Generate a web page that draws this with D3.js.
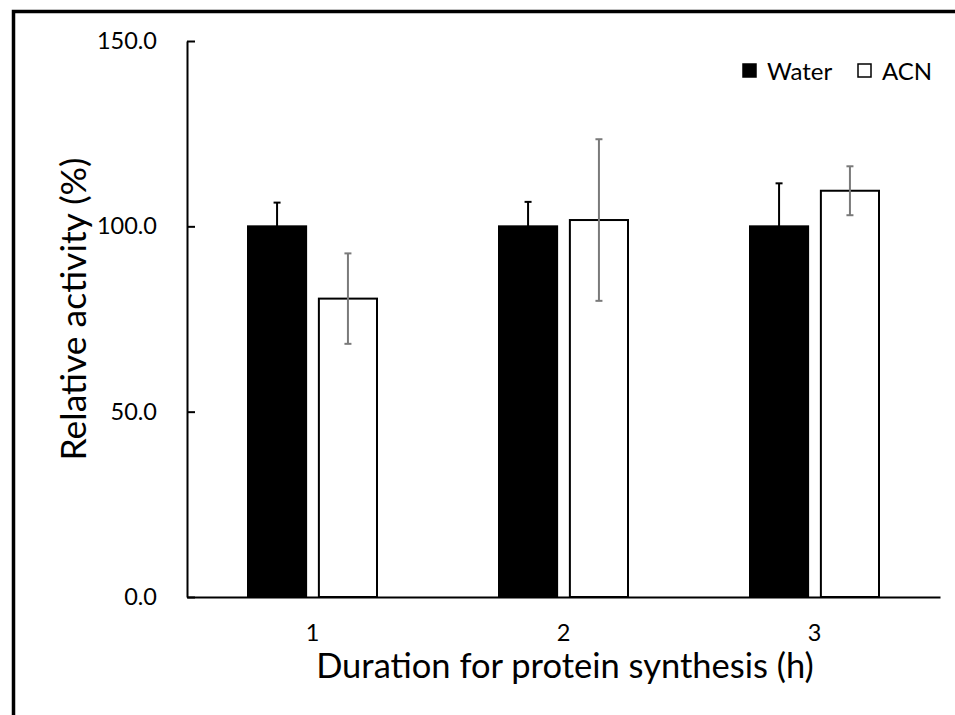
<!DOCTYPE html>
<html><head><meta charset="utf-8">
<script src="https://cdn.jsdelivr.net/npm/d3@7"></script>
<style>body{margin:0;background:#fff;} svg{display:block;font-family:Lato, "Open Sans", sans-serif;}</style>
</head><body>
<svg id="chart" width="955" height="715"></svg>
<script>
const categories = ["1", "2", "3"];
const series = ["Water", "ACN"];
const waterValues = [100.0, 100.0, 100.0];
const waterErrors = [6.4, 6.6, 11.6];
const acnValues = [80.5, 101.7, 109.6];
const acnErrors = [12.2, 21.8, 6.6];
const yTicks = [0, 50, 100, 150];

const svg = d3.select("#chart");
const W = 955, H = 715;
svg.append("rect").attr("x", 13.5).attr("y", 11.5).attr("width", W + 20).attr("height", H + 20)
  .attr("fill", "none").attr("stroke", "#000").attr("stroke-width", 3.5);

const m = {left: 187, right: 940, top: 41, bottom: 597};
const y = d3.scaleLinear().domain([0, 150]).range([m.bottom, m.top]);
const x0 = d3.scaleBand().domain(categories).range([m.left, m.right]).paddingInner(0).paddingOuter(0);
const x1 = d3.scaleBand().domain(series).range([61, x0.bandwidth() - 61]).paddingInner(0.18);

const data = categories.map((c, i) => ({
  cat: c,
  bars: [
    {s: "Water", v: waterValues[i], e: waterErrors[i]},
    {s: "ACN", v: acnValues[i], e: acnErrors[i]}
  ]
}));

const g = svg.append("g");
const groups = g.selectAll("g.grp").data(data).enter().append("g")
  .attr("transform", d => `translate(${x0(d.cat)},0)`);

groups.selectAll("rect").data(d => d.bars).enter().append("rect")
  .attr("x", d => x1(d.s))
  .attr("y", d => y(d.v))
  .attr("width", x1.bandwidth())
  .attr("height", d => y(0) - y(d.v))
  .attr("fill", d => d.s === "Water" ? "#000" : "#fff")
  .attr("stroke", "#000").attr("stroke-width", 2);

// error bars
groups.selectAll("g.err").data(d => d.bars).enter().append("g").each(function(d) {
  const cx = x1(d.s) + x1.bandwidth() / 2;
  const col = d.s === "Water" ? "#000" : "#7a7a7a";
  const lo = d.s === "Water" ? d.v : d.v - d.e;
  const sel = d3.select(this);
  sel.append("line").attr("x1", cx).attr("x2", cx).attr("y1", y(lo)).attr("y2", y(d.v + d.e))
    .attr("stroke", col).attr("stroke-width", 2);
  sel.append("line").attr("x1", cx - 3.5).attr("x2", cx + 3.5).attr("y1", y(d.v + d.e)).attr("y2", y(d.v + d.e))
    .attr("stroke", col).attr("stroke-width", 2);
  if (d.s !== "Water") {
    sel.append("line").attr("x1", cx - 3.5).attr("x2", cx + 3.5).attr("y1", y(lo)).attr("y2", y(lo))
      .attr("stroke", col).attr("stroke-width", 2);
  }
});

// y axis
const yAxis = d3.axisLeft(y).tickValues(yTicks).tickSizeInner(-8).tickSizeOuter(0).tickPadding(30)
  .tickFormat(d3.format(".1f"));
const ya = svg.append("g").attr("transform", `translate(${m.left},0)`).call(yAxis);
ya.select(".domain").attr("stroke", "#000").attr("stroke-width", 2);
ya.selectAll(".tick line").attr("stroke", "#000").attr("stroke-width", 2);
ya.selectAll(".tick text").attr("font-size", 23.5).attr("fill", "#000").attr("font-family", "Lato");

// x axis
const xAxis = d3.axisBottom(x0).tickSize(0).tickSizeOuter(0).tickPadding(27);
const xa = svg.append("g").attr("transform", `translate(0,${m.bottom})`).call(xAxis);
xa.select(".domain").attr("stroke", "#000").attr("stroke-width", 2);
xa.selectAll(".tick text").attr("font-size", 23.5).attr("fill", "#000").attr("font-family", "Lato");

// axis titles
svg.append("text").attr("transform", `translate(86,309) rotate(-90)`)
  .attr("text-anchor", "middle").attr("font-size", 35.5).attr("fill", "#000").text("Relative activity (%)");
svg.append("text").attr("x", 565).attr("y", 678).attr("text-anchor", "middle")
  .attr("font-size", 34.5).attr("fill", "#000").text("Duration for protein synthesis (h)");

// legend
const leg = svg.append("g");
const legItems = [{s: "Water", x: 743, fill: "#000"}, {s: "ACN", x: 858, fill: "#fff"}];
legItems.forEach(it => {
  leg.append("rect").attr("x", it.x).attr("y", 64).attr("width", 13).attr("height", 13)
    .attr("fill", it.fill).attr("stroke", "#000").attr("stroke-width", 1.5);
  leg.append("text").attr("x", it.x + 24).attr("y", 80).attr("font-size", 24).attr("fill", "#000").text(it.s);
});
</script>
</body></html>
